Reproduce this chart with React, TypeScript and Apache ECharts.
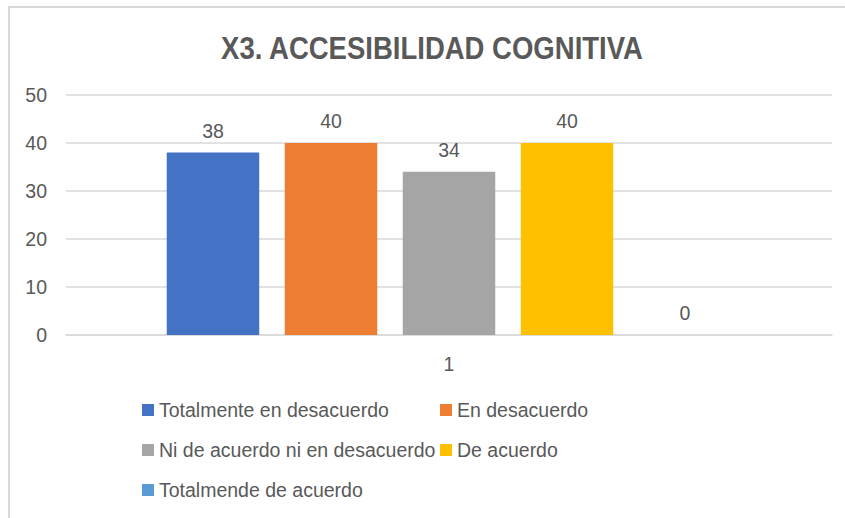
import React, { useEffect, useRef } from "react";
import * as echarts from "echarts";

const categories = ["1"];
const seriesNames = [
  "Totalmente en desacuerdo",
  "En desacuerdo",
  "Ni de acuerdo ni en desacuerdo",
  "De acuerdo",
  "Totalmende de acuerdo",
];
const seriesValues = [38, 40, 34, 40, 0];
const seriesColors = ["#4472C4", "#ED7D31", "#A5A5A5", "#FFC000", "#5B9BD5"];
const yTicks = { min: 0, max: 50, interval: 10 };
const titleText = "X3. ACCESIBILIDAD COGNITIVA";

const TEXT = "#595959";
const FONT = "'Liberation Sans', Arial, sans-serif";

export default function App() {
  const ref = useRef<HTMLDivElement>(null);
  useEffect(() => {
    if (!ref.current) return;
    const chart = echarts.init(ref.current, undefined, { renderer: "svg" });
    const legendPos = [
      { left: 142, top: 400 },
      { left: 440, top: 400 },
      { left: 142, top: 440 },
      { left: 440, top: 440 },
      { left: 142, top: 480 },
    ];
    chart.setOption({
      animation: false,
      backgroundColor: "#ffffff",
      textStyle: { fontFamily: FONT },
      graphic: [
        {
          type: "rect",
          shape: { x: 9, y: 7, width: 900, height: 600 },
          style: { fill: "none", stroke: "#D9D9D9", lineWidth: 2 },
          silent: true,
        },
        {
          type: "text",
          x: 432,
          y: 48,
          scaleX: 0.86,
          style: {
            text: titleText,
            fontFamily: FONT,
            fontWeight: "bold",
            fontSize: 32,
            fill: TEXT,
            align: "center",
            verticalAlign: "middle",
          },
          silent: true,
        },
      ],
      legend: seriesNames.map((name, i) => ({
        data: [name],
        left: legendPos[i].left,
        top: legendPos[i].top,
        padding: 0,
        icon: "rect",
        itemWidth: 12,
        itemHeight: 12,
        itemGap: 5,
        selectedMode: false,
        textStyle: { fontFamily: FONT, fontSize: 19.5, color: TEXT },
      })),
      grid: { left: 66, right: 13, top: 95, bottom: 183, containLabel: false },
      xAxis: {
        type: "category",
        data: categories,
        axisLine: { show: true, lineStyle: { color: "#D9D9D9", width: 1.5 } },
        axisTick: { show: false },
        axisLabel: { color: TEXT, fontSize: 19.5, margin: 19, fontFamily: FONT },
      },
      yAxis: {
        type: "value",
        min: yTicks.min,
        max: yTicks.max,
        interval: yTicks.interval,
        axisLine: { show: false },
        axisTick: { show: false },
        splitLine: { lineStyle: { color: "#D9D9D9", width: 1.5 } },
        axisLabel: { color: TEXT, fontSize: 19.5, margin: 19, fontFamily: FONT },
      },
      series: seriesNames.map((name, i) => ({
        name,
        type: "bar",
        data: [seriesValues[i]],
        itemStyle: { color: seriesColors[i] },
        barGap: "27.6%",
        barCategoryGap: "26.3%",
        label: {
          show: true,
          position: "top",
          distance: 12,
          color: TEXT,
          fontSize: 19.5,
          fontFamily: FONT,
        },
      })),
    });
    return () => chart.dispose();
  }, []);
  return (
    <div
      ref={ref}
      style={{ position: "absolute", left: 0, top: 0, width: 845, height: 518 }}
    />
  );
}
